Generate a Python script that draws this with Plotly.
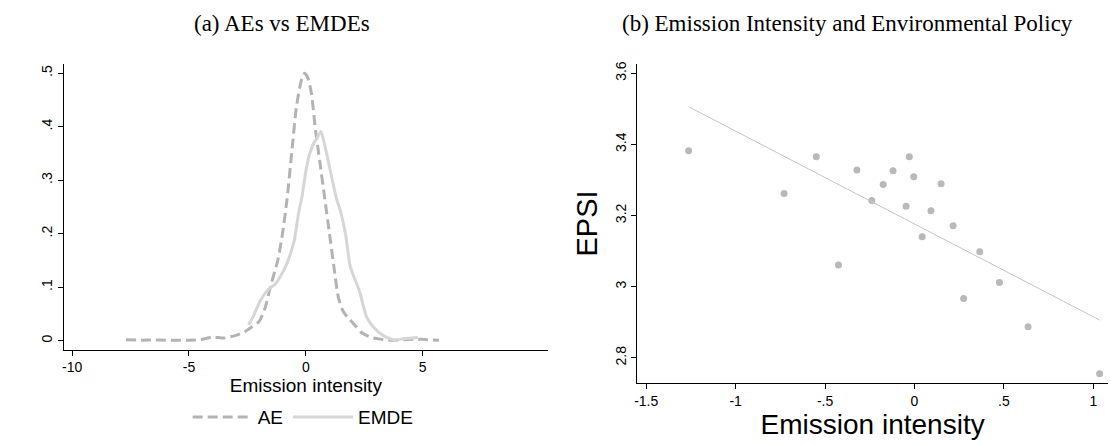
import numpy as np
import plotly.graph_objects as go

# ---------------- Data ----------------
# Panel (a): kernel densities of emission intensity
ae_x = [-7.7, -7.0, -6.5, -6.0, -5.5, -5.0, -4.5, -4.0, -3.5, -3.0, -2.6, -2.3, -2.0,
        -1.75, -1.5, -1.2, -1.0, -0.8, -0.6, -0.4, -0.2, -0.05, 0.1, 0.25, 0.4, 0.6,
        0.8, 1.0, 1.2, 1.4, 1.6, 1.8, 2.0, 2.4, 2.8, 3.2, 3.7, 4.2, 4.7, 5.2, 5.7]
ae_y = [0.002, 0.001, 0.0015, 0.001, 0.001, 0.001, 0.002, 0.007, 0.005, 0.010, 0.017,
        0.026, 0.036, 0.060, 0.103, 0.150, 0.199, 0.265, 0.352, 0.437, 0.485, 0.500,
        0.490, 0.460, 0.400, 0.335, 0.270, 0.205, 0.140, 0.080, 0.055, 0.043, 0.034,
        0.015, 0.006, 0.003, 0.001, 0.002, 0.003, 0.002, 0.001]

emde_x = [-2.45, -2.25, -2.0, -1.8, -1.6, -1.3, -1.0, -0.8, -0.5, -0.3, -0.15, 0.0,
          0.15, 0.35, 0.5, 0.65, 0.85, 1.05, 1.3, 1.5, 1.7, 1.9, 2.1, 2.3, 2.6, 2.9,
          3.3, 3.8, 4.2, 4.5, 4.8]
emde_y = [0.030, 0.045, 0.070, 0.085, 0.096, 0.106, 0.127, 0.145, 0.186, 0.240, 0.272,
          0.316, 0.347, 0.370, 0.380, 0.391, 0.358, 0.318, 0.268, 0.240, 0.200, 0.140,
          0.115, 0.093, 0.045, 0.025, 0.010, 0.001, 0.004, 0.005, 0.006]

# Panel (b): emission intensity vs EPSI
ei_x = [-1.263, -0.729, -0.549, -0.425, -0.322, -0.239, -0.175, -0.120, -0.047, -0.029,
        -0.004, 0.043, 0.092, 0.149, 0.216, 0.275, 0.365, 0.475, 0.635, 1.035]
epsi_y = [3.382, 3.262, 3.365, 3.061, 3.328, 3.242, 3.287, 3.326, 3.226, 3.365,
          3.309, 3.140, 3.213, 3.289, 3.171, 2.967, 3.098, 3.012, 2.887, 2.755]

a_xticks = [-10, -5, 0, 5]
a_xticktext = ["-10", "-5", "0", "5"]
a_yticks = [0, 0.1, 0.2, 0.3, 0.4, 0.5]
a_yticktext = ["0", ".1", ".2", ".3", ".4", ".5"]
b_xticks = [-1.5, -1, -0.5, 0, 0.5, 1]
b_xticktext = ["-1.5", "-1", "-.5", "0", ".5", "1"]
b_yticks = [2.8, 3.0, 3.2, 3.4, 3.6]
b_yticktext = ["2.8", "3", "3.2", "3.4", "3.6"]

# linear fit
slope, intercept = np.polyfit(ei_x, epsi_y, 1)
fit_x = [min(ei_x), max(ei_x)]
fit_y = [intercept + slope * v for v in fit_x]

W, H = 1111, 446
def px(x):
    return x / W
def py(y):
    return (H - y) / H

fig = go.Figure()

fig.add_trace(go.Scatter(x=ae_x, y=ae_y, mode="lines", name="AE",
                         line=dict(color="#b3b3b3", width=3, dash="10px,5px",
                                   shape="spline", smoothing=0.6),
                         xaxis="x", yaxis="y"))
fig.add_trace(go.Scatter(x=emde_x, y=emde_y, mode="lines", name="EMDE",
                         line=dict(color="#d6d6d6", width=3,
                                   shape="spline", smoothing=0.6),
                         xaxis="x", yaxis="y"))

fig.add_trace(go.Scatter(x=ei_x, y=epsi_y, mode="markers", showlegend=False,
                         marker=dict(color="#b9b9b9", size=7),
                         xaxis="x2", yaxis="y2"))
fig.add_trace(go.Scatter(x=fit_x, y=fit_y, mode="lines", showlegend=False,
                         line=dict(color="#c4c4c4", width=1),
                         xaxis="x2", yaxis="y2"))

tickfont = dict(family="Liberation Sans, Arial, sans-serif", size=14, color="black")
axis_common = dict(showline=True, linecolor="black", linewidth=1, ticks="outside",
                   ticklen=5, tickcolor="black", tickwidth=1, showgrid=False,
                   zeroline=False, tickfont=tickfont, mirror=False)

fig.update_layout(
    width=W, height=H, autosize=False,
    margin=dict(l=0, r=0, t=0, b=0),
    paper_bgcolor="white", plot_bgcolor="white",
    font=dict(family="Liberation Sans, Arial, sans-serif", color="black"),
    xaxis=dict(domain=[px(60.7), px(546.7)], range=[-10.37, 10.38],
               tickvals=a_xticks, ticktext=a_xticktext, anchor="y",
               title=dict(text="Emission intensity", font=dict(size=19), standoff=4),
               **axis_common),
    yaxis=dict(domain=[py(349), py(61.7)], range=[-0.0167, 0.5167],
               tickvals=a_yticks, ticktext=a_yticktext, tickangle=-90, anchor="x",
               **axis_common),
    xaxis2=dict(domain=[px(636), px(1108)], range=[-1.55, 1.082],
                tickvals=b_xticks, ticktext=b_xticktext, anchor="y2",
                title=dict(text="Emission intensity", font=dict(size=28), standoff=0),
                **axis_common),
    yaxis2=dict(domain=[py(382.3), py(61.7)], range=[2.730, 3.625],
                tickvals=b_yticks, ticktext=b_yticktext, tickangle=-90, anchor="x2",
                title=dict(text="EPSI", font=dict(size=29), standoff=6),
                **axis_common),
    legend=dict(orientation="h", x=px(301), y=py(417), xanchor="center", yanchor="middle",
                font=dict(size=19), bgcolor="rgba(0,0,0,0)", itemwidth=60,
                tracegroupgap=0),
    annotations=[
        dict(text="(a) AEs vs EMDEs", x=px(280), y=py(21), xref="paper", yref="paper",
             showarrow=False, xanchor="center", yanchor="middle",
             font=dict(family="Liberation Serif, Times New Roman, serif", size=23)),
        dict(text="(b) Emission Intensity and Environmental Policy", x=px(847), y=py(21),
             xref="paper", yref="paper", showarrow=False, xanchor="center",
             yanchor="middle",
             font=dict(family="Liberation Serif, Times New Roman, serif", size=23)),
    ],
)

fig.write_html("out.html")
